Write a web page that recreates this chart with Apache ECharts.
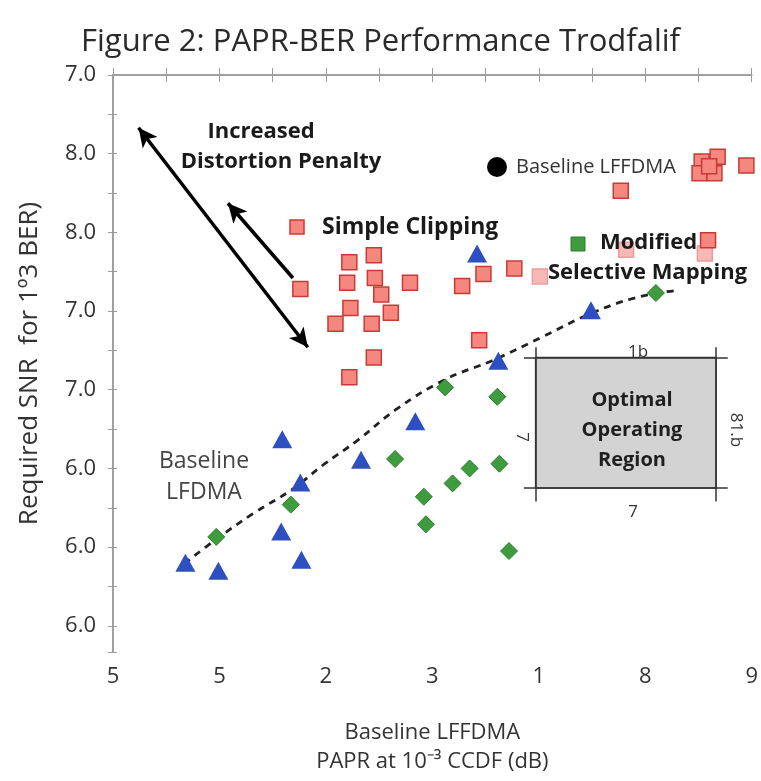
<!DOCTYPE html>
<html>
<head>
<meta charset="utf-8">
<script src="https://cdn.jsdelivr.net/npm/echarts@6/dist/echarts.min.js"></script>
<style>
html,body{margin:0;padding:0;background:#fff;}
#c{width:761px;height:781px;}
</style>
</head>
<body>
<div id="c"></div>
<script>
// ---- data ----
const xTickLabels = ['5', '5', '2', '3', '1', '8', '9'];
const yTickLabels = ['7.0', '8.0', '8.0', '7.0', '7.0', '6.0', '6.0', '6.0'];

// Simple Clipping (red squares)
const clippingPoints = [
  [1.76, 2.72], [2.22, 2.38], [2.45, 2.29], [2.20, 2.64], [2.46, 2.58],
  [2.52, 2.79], [2.79, 2.64], [2.23, 2.96], [2.09, 3.16], [2.61, 3.02],
  [2.43, 3.16], [2.45, 3.59], [2.22, 3.84], [3.28, 2.68], [3.48, 2.53],
  [3.77, 2.46], [3.44, 3.37], [4.77, 1.47], [5.59, 2.10], [5.53, 1.10],
  [5.68, 1.04], [5.51, 1.25], [5.65, 1.25], [5.60, 1.16], [5.95, 1.15]
];
// Simple Clipping, faded points
const clippingFaded = [[4.01, 2.56], [5.56, 2.27], [4.82, 2.22]];

// Baseline LFDMA (blue triangles)
const lfdmaPoints = [
  [0.68, 6.20], [0.99, 6.30], [1.59, 4.63], [1.58, 5.80], [1.77, 6.16],
  [1.76, 5.18], [2.33, 4.89], [2.84, 4.40], [3.42, 2.27], [3.62, 3.63],
  [4.49, 2.99]
];

// Modified Selective Mapping (green diamonds)
const slmPoints = [
  [0.97, 5.87], [1.67, 5.46], [2.65, 4.88], [3.12, 3.97], [3.61, 4.09],
  [2.92, 5.36], [3.19, 5.19], [3.35, 5.00], [3.63, 4.94], [2.94, 5.71],
  [3.72, 6.05], [5.10, 2.77]
];

// dashed trade-off curve
const trendCurve = [
  [0.67, 6.21], [0.97, 5.90], [1.32, 5.57], [1.68, 5.27], [1.98, 4.95],
  [2.30, 4.64], [2.67, 4.24], [3.12, 3.87], [3.58, 3.62], [4.03, 3.33],
  [4.49, 3.03], [4.91, 2.83], [5.28, 2.74]
];

// optimal operating region extent (x range, y range)
const regionX = [3.97, 5.665];
const regionY = [3.59, 5.25];

const FONT = 'Open Sans';
const chart = echarts.init(document.getElementById('c'), null, {renderer: 'canvas'});

const yFmt = v => {
  const r = Math.round(v);
  return Math.abs(v - r) < 1e-6 && yTickLabels[r] !== undefined ? yTickLabels[r] : '';
};
const xFmt = v => {
  const r = Math.round(v);
  return Math.abs(v - r) < 1e-6 && xTickLabels[r] !== undefined ? xTickLabels[r] : '';
};

const axisGray = '#9a9a9a';

const option = {
  backgroundColor: '#fff',
  animation: false,
  title: {
    text: 'Figure 2: PAPR-BER Performance Trodfalif',
    left: 'center',
    top: 22,
    textStyle: {fontFamily: FONT, fontSize: 31, fontWeight: 'normal', color: '#2a2a2a'}
  },
  grid: {left: 113, right: 4, top: 75, bottom: 113, containLabel: false},
  xAxis: [
    {
      type: 'value', min: 0, max: 6, interval: 1, position: 'bottom',
      axisLine: {show: true, lineStyle: {color: axisGray, width: 1.5}},
      axisTick: {show: true, inside: true, length: 7, lineStyle: {color: axisGray}},
      minorTick: {show: true, splitNumber: 2, length: 7, lineStyle: {color: axisGray}},
      splitLine: {show: false},
      axisLabel: {formatter: xFmt, fontFamily: FONT, fontSize: 22, color: '#333', margin: 14},
      name: 'Baseline LFFDMA\nPAPR at 10\u207B\u00B3 CCDF (dB)',
      nameLocation: 'middle', nameGap: 66,
      nameTextStyle: {fontFamily: FONT, fontSize: 22, color: '#333', lineHeight: 29}
    },
    {
      type: 'value', min: 0, max: 6, interval: 0.5, position: 'top',
      axisLine: {show: true, lineStyle: {color: axisGray, width: 1.5}},
      axisTick: {show: true, inside: true, length: 7, lineStyle: {color: axisGray}},
      splitLine: {show: false},
      axisLabel: {show: false}
    }
  ],
  yAxis: [
    {
      type: 'value', inverse: true, min: 0, max: 7.333, interval: 1, position: 'left',
      axisLine: {show: true, lineStyle: {color: axisGray, width: 1.5}},
      axisTick: {show: true, inside: false, length: 5, lineStyle: {color: axisGray}},
      minorTick: {show: true, splitNumber: 2, length: 5, lineStyle: {color: axisGray}},
      splitLine: {show: false},
      axisLabel: {formatter: yFmt, fontFamily: FONT, fontSize: 22, color: '#333', margin: 17},
      name: 'Required SNR  for 1\u00BA3 BER)',
      nameLocation: 'middle', nameGap: 70, nameRotate: 90,
      nameTextStyle: {fontFamily: FONT, fontSize: 26, color: '#333'}
    },
    {
      type: 'value', inverse: true, min: 0, max: 7.333, interval: 0.5, position: 'right',
      axisLine: {show: true, lineStyle: {color: axisGray, width: 1.5}},
      axisTick: {show: true, inside: false, length: 4, lineStyle: {color: axisGray}},
      splitLine: {show: false},
      axisLabel: {show: false}
    }
  ],
  series: [
    {
      name: 'annotations', type: 'scatter', data: [], silent: true,
      markArea: {
        silent: true,
        itemStyle: {color: '#d3d3d3', borderColor: '#3a3a3a', borderWidth: 1.5},
        data: [[{coord: [regionX[0], regionY[0]]}, {coord: [regionX[1], regionY[1]]}]]
      },
      markLine: {
        silent: true, animation: false,
        label: {show: false},
        lineStyle: {color: '#333', width: 1.5, type: 'solid'},
        symbol: ['none', 'none'],
        data: [
          [{coord: [regionX[0] - 0.11, regionY[0]]}, {coord: [regionX[1] + 0.11, regionY[0]]}],
          [{coord: [regionX[0] - 0.11, regionY[1]]}, {coord: [regionX[1] + 0.11, regionY[1]]}],
          [{coord: [regionX[0], regionY[0] - 0.13]}, {coord: [regionX[0], regionY[1] + 0.17]}],
          [{coord: [regionX[1], regionY[0] - 0.13]}, {coord: [regionX[1], regionY[1] + 0.17]}],
          [
            {coord: [0.24, 0.67], symbol: 'arrow', symbolSize: [14, 19], lineStyle: {color: '#000', width: 3.5}},
            {coord: [1.83, 3.46], symbol: 'arrow', symbolSize: [14, 19]}
          ],
          [
            {coord: [1.69, 2.58], symbol: 'none', lineStyle: {color: '#000', width: 3.5}},
            {coord: [1.08, 1.63], symbol: 'arrow', symbolSize: [14, 19]}
          ]
        ]
      }
    },
    {
      name: 'Trade-off curve', type: 'line', data: trendCurve, smooth: 0.4,
      showSymbol: false, symbol: 'none', z: 3,
      lineStyle: {color: '#222', width: 2.8, type: [7, 6]}
    },
    {
      name: 'Simple Clipping (faded)', type: 'scatter', data: clippingFaded, symbol: 'rect', symbolSize: 15, z: 2,
      itemStyle: {color: '#f7b9b6', borderColor: '#ec9c9c', borderWidth: 1.5, opacity: 1}
    },
    {
      name: 'Simple Clipping', type: 'scatter', data: clippingPoints, symbol: 'rect', symbolSize: 15, z: 4,
      itemStyle: {color: '#f4887e', borderColor: '#c93a36', borderWidth: 1.5, opacity: 1}
    },
    {
      name: 'Baseline LFDMA', type: 'scatter', data: lfdmaPoints, symbol: 'triangle', symbolSize: [20, 18], z: 4,
      itemStyle: {color: '#2d4fc2', opacity: 1}
    },
    {
      name: 'Modified Selective Mapping', type: 'scatter', data: slmPoints, symbol: 'diamond', symbolSize: 17, z: 4,
      itemStyle: {color: '#3e9c3e', borderColor: '#2c7d2c', borderWidth: 1, opacity: 1}
    }
  ],
  graphic: [
    {type: 'text', x: 261, y: 132, z: 100, style: {text: 'Increased', fontFamily: FONT, fontSize: 22, fontWeight: 'bold', fill: '#1a1a1a', align: 'center', verticalAlign: 'middle'}},
    {type: 'text', x: 281, y: 162, z: 100, style: {text: 'Distortion Penalty', fontFamily: FONT, fontSize: 22, fontWeight: 'bold', fill: '#1a1a1a', align: 'center', verticalAlign: 'middle'}},
    {type: 'rect', x: 290, y: 220, z: 100, shape: {width: 14, height: 14}, style: {fill: '#f4887e', stroke: '#c93a36', lineWidth: 1.5}},
    {type: 'text', x: 322, y: 227, z: 100, style: {text: 'Simple Clipping', fontFamily: FONT, fontSize: 23, fontWeight: 'bold', fill: '#1a1a1a', align: 'left', verticalAlign: 'middle'}},
    {type: 'circle', x: 497, y: 167, z: 100, shape: {r: 10}, style: {fill: '#000'}},
    {type: 'text', x: 516, y: 167, z: 100, style: {text: 'Baseline LFFDMA', fontFamily: FONT, fontSize: 20, fill: '#333', align: 'left', verticalAlign: 'middle'}},
    {type: 'rect', x: 571, y: 237, z: 100, shape: {width: 14, height: 14}, style: {fill: '#3e9c3e', stroke: '#2c7d2c', lineWidth: 1}},
    {type: 'text', x: 600, y: 243, z: 100, style: {text: 'Modified', fontFamily: FONT, fontSize: 22, fontWeight: 'bold', fill: '#1a1a1a', align: 'left', verticalAlign: 'middle'}},
    {type: 'text', x: 548, y: 273, z: 100, style: {text: 'Selective Mapping', fontFamily: FONT, fontSize: 22, fontWeight: 'bold', fill: '#1a1a1a', align: 'left', verticalAlign: 'middle'}},
    {type: 'text', x: 204, y: 477, z: 100, style: {text: 'Baseline\nLFDMA', fontFamily: FONT, fontSize: 23, fill: '#444', align: 'center', verticalAlign: 'middle', lineHeight: 31}},
    {type: 'text', x: 632, y: 430, z: 100, style: {text: 'Optimal\nOperating\nRegion', fontFamily: FONT, fontSize: 20, fontWeight: 'bold', fill: '#1f1f1f', align: 'center', verticalAlign: 'middle', lineHeight: 30}},
    {type: 'text', x: 638, y: 352, z: 100, style: {text: '1b', fontFamily: FONT, fontSize: 17, fill: '#333', align: 'center', verticalAlign: 'middle'}},
    {type: 'text', x: 633, y: 512, z: 100, style: {text: '7', fontFamily: FONT, fontSize: 17, fill: '#333', align: 'center', verticalAlign: 'middle'}},
    {type: 'text', x: 522, y: 437, rotation: -Math.PI / 2, z: 100, style: {text: '7', fontFamily: FONT, fontSize: 17, fill: '#333', align: 'center', verticalAlign: 'middle'}},
    {type: 'text', x: 736, y: 430, rotation: -Math.PI / 2, z: 100, style: {text: '81.b', fontFamily: FONT, fontSize: 17, fill: '#333', align: 'center', verticalAlign: 'middle'}}
  ]
};
chart.setOption(option);
</script>
</body>
</html>
